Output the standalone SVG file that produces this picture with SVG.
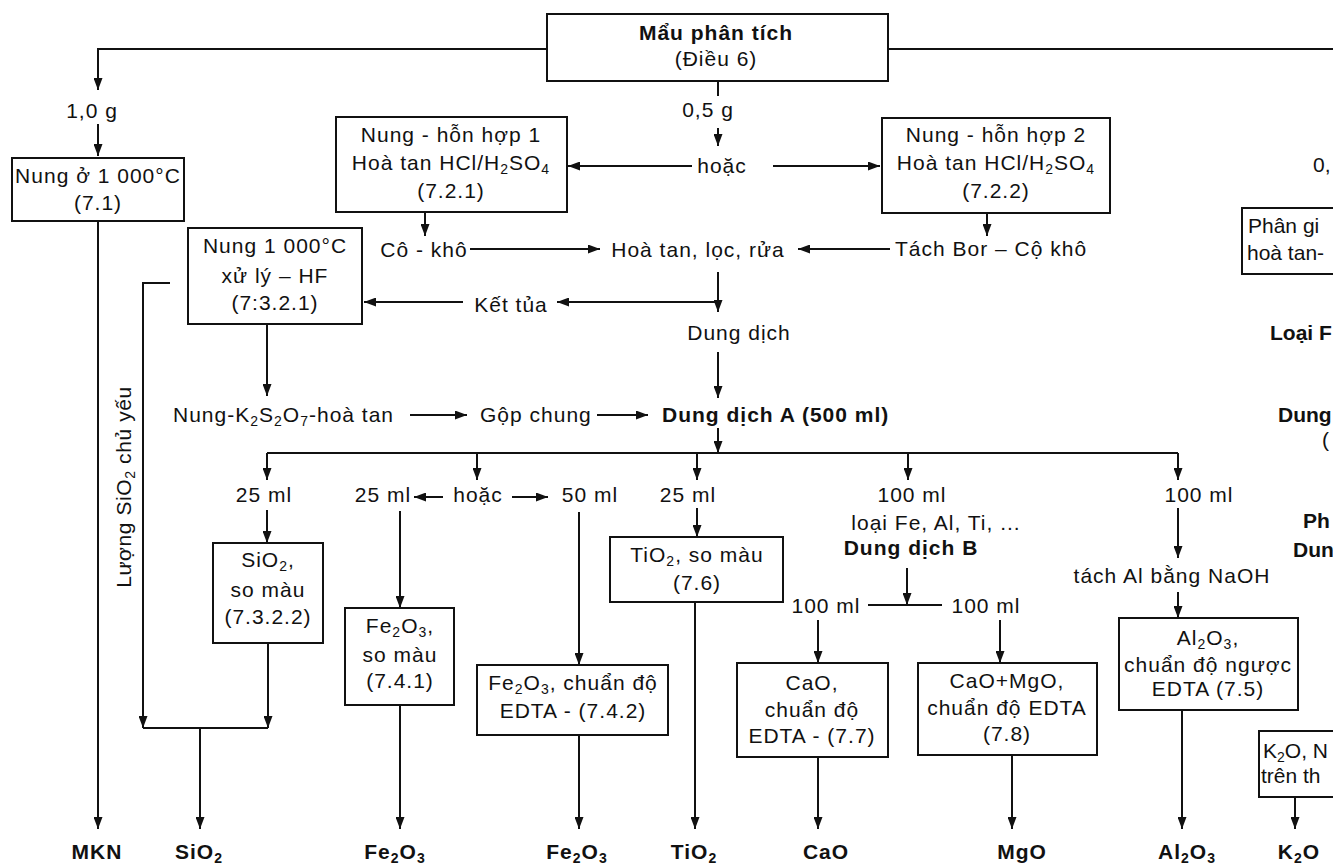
<svg xmlns="http://www.w3.org/2000/svg" width="1333" height="866" viewBox="0 0 1333 866">
<defs>
<style>
.t{font-family:"Liberation Sans",Arial,sans-serif;font-size:21px;letter-spacing:1px;fill:#111}
.b{font-weight:bold}
.m{text-anchor:middle}
.s{font-size:14px}
.ns{letter-spacing:0}
.box{fill:#fff;stroke:#111;stroke-width:2}
.ln{fill:none;stroke:#111;stroke-width:2}
.ar{marker-end:url(#ah)}
</style>
<marker id="ah" markerUnits="userSpaceOnUse" markerWidth="12" markerHeight="9" refX="12" refY="4.5" orient="auto">
<path d="M0,0 L12,4.5 L0,9 z" fill="#111"/>
</marker>
</defs>
<rect width="1333" height="866" fill="#fff"/>

<g id="connectors">
<path class="ln ar" d="M546,49 H98 V90"/>
<path class="ln" d="M888,49 H1333"/>
<path class="ln ar" d="M98,124 V156"/>
<path class="ln ar" d="M98,221 V829"/>
<path class="ln" d="M718,81 V96"/>
<path class="ln ar" d="M718,128 V146"/>
<path class="ln ar" d="M692,166 H568"/>
<path class="ln ar" d="M773,166 H880"/>
<path class="ln ar" d="M425,212 V236"/>
<path class="ln ar" d="M987,213 V236"/>
<path class="ln ar" d="M470,249 H600"/>
<path class="ln ar" d="M890,249 H798"/>
<path class="ln ar" d="M718,272 V312"/>
<path class="ln ar" d="M718,302 H557"/>
<path class="ln ar" d="M463,302 H364"/>
<path class="ln ar" d="M718,352 V398"/>
<path class="ln ar" d="M267,324 V396"/>
<path class="ln ar" d="M410,415 H467"/>
<path class="ln ar" d="M597,415 H648"/>
<path class="ln ar" d="M718,428 V453"/>
<path class="ln" d="M267,453 H1178"/>
<path class="ln ar" d="M267,453 V480"/>
<path class="ln ar" d="M477,453 V480"/>
<path class="ln ar" d="M697,453 V480"/>
<path class="ln ar" d="M908,453 V480"/>
<path class="ln ar" d="M1178,453 V480"/>
<path class="ln ar" d="M443,497 H414"/>
<path class="ln ar" d="M512,497 H548"/>
<path class="ln ar" d="M267,510 V543"/>
<path class="ln ar" d="M400,511 V608"/>
<path class="ln ar" d="M579,512 V665"/>
<path class="ln ar" d="M697,508 V537"/>
<path class="ln ar" d="M268,643 V728"/>
<path class="ln ar" d="M170,283 H143 V728"/>
<path class="ln" d="M143,728 H268"/>
<path class="ln ar" d="M200,728 V829"/>
<path class="ln ar" d="M400,705 V829"/>
<path class="ln ar" d="M579,735 V829"/>
<path class="ln ar" d="M695,602 V829"/>
<path class="ln ar" d="M907,568 V605"/>
<path class="ln" d="M868,605 H942"/>
<path class="ln ar" d="M818,620 V663"/>
<path class="ln ar" d="M1000,620 V663"/>
<path class="ln ar" d="M818,757 V829"/>
<path class="ln ar" d="M1012,755 V829"/>
<path class="ln ar" d="M1178,508 V558"/>
<path class="ln ar" d="M1178,592 V618"/>
<path class="ln ar" d="M1182,710 V829"/>
<path class="ln ar" d="M1295,797 V829"/>
</g>

<g id="mau">
<rect class="box" x="547" y="14" width="341" height="67"/>
<text class="t b m" x="716" y="40">Mẩu phân tích</text>
<text class="t m" x="716" y="66">(Điều 6)</text>
</g>

<g id="lbl10g"><text class="t m" x="92" y="118">1,0 g</text></g>
<g id="lbl05g"><text class="t m" x="708" y="117">0,5 g</text></g>
<g id="lblhoac1"><text class="t m" x="722" y="173">hoặc</text></g>

<g id="nung71">
<rect class="box" x="12" y="158" width="172" height="63"/>
<text class="t m" x="98" y="183">Nung ở 1 000°C</text>
<text class="t m" x="98" y="210">(7.1)</text>
</g>

<g id="hh1">
<rect class="box" x="336" y="117" width="231" height="95"/>
<text class="t m" x="451" y="142">Nung - hỗn hợp 1</text>
<text class="t m" x="451" y="170">Hoà tan HCl/H<tspan class="s" dy="4">2</tspan><tspan dy="-4">SO</tspan><tspan class="s" dy="4">4</tspan></text>
<text class="t m" x="451" y="198">(7.2.1)</text>
</g>

<g id="hh2">
<rect class="box" x="882" y="118" width="228" height="95"/>
<text class="t m" x="996" y="142">Nung - hỗn hợp 2</text>
<text class="t m" x="996" y="170">Hoà tan HCl/H<tspan class="s" dy="4">2</tspan><tspan dy="-4">SO</tspan><tspan class="s" dy="4">4</tspan></text>
<text class="t m" x="996" y="198">(7.2.2)</text>
</g>

<g id="cokho"><text class="t m" x="424" y="257">Cô - khô</text></g>
<g id="hoatan"><text class="t m" x="698" y="257">Hoà tan, lọc, rửa</text></g>
<g id="tachbor"><text class="t" x="895" y="256">Tách Bor – Cộ khô</text></g>

<g id="hf">
<rect class="box" x="188" y="228" width="174" height="96"/>
<text class="t m" x="275" y="253">Nung 1 000°C</text>
<text class="t m" x="275" y="283">xử lý – HF</text>
<text class="t m" x="275" y="310">(7:3.2.1)</text>
</g>

<g id="kettua"><text class="t m" x="511" y="312">Kết tủa</text></g>
<g id="dungdich"><text class="t m" x="739" y="340">Dung dịch</text></g>
<g id="k2s2o7"><text class="t" x="173" y="422">Nung-K<tspan class="s" dy="4">2</tspan><tspan dy="-4">S</tspan><tspan class="s" dy="4">2</tspan><tspan dy="-4">O</tspan><tspan class="s" dy="4">7</tspan><tspan dy="-4">-hoà tan</tspan></text></g>
<g id="gop"><text class="t" x="480" y="422">Gộp chung</text></g>
<g id="ddA"><text class="t b" x="662" y="422">Dung dịch A (500 ml)</text></g>

<g id="sluong"><text class="t" transform="translate(131,487) rotate(-90)" text-anchor="middle" style="letter-spacing:0.6px">Lượng SiO<tspan class="s" dy="4">2</tspan><tspan dy="-4"> chủ yếu</tspan></text></g>

<g id="v25a"><text class="t m" x="264" y="502">25 ml</text></g>
<g id="v25b"><text class="t m" x="383" y="502">25 ml</text></g>
<g id="hoac2"><text class="t m" x="478" y="502">hoặc</text></g>
<g id="v50"><text class="t m" x="590" y="502">50 ml</text></g>
<g id="v25c"><text class="t m" x="688" y="502">25 ml</text></g>
<g id="v100a">
<text class="t m" x="912" y="502">100 ml</text>
<text class="t m" x="936" y="530">loại Fe, Al, Ti, ...</text>
<text class="t b m" x="911" y="555">Dung dịch B</text>
</g>
<g id="v100b"><text class="t m" x="1199" y="502">100 ml</text></g>
<g id="tachAl"><text class="t m" x="1172" y="583">tách Al bằng NaOH</text></g>
<g id="v100c"><text class="t m" x="826" y="613">100 ml</text></g>
<g id="v100d"><text class="t m" x="986" y="613">100 ml</text></g>

<g id="sio2box">
<rect class="box" x="213" y="543" width="110" height="100"/>
<text class="t m" x="268" y="567">SiO<tspan class="s" dy="4">2</tspan><tspan dy="-4">,</tspan></text>
<text class="t m" x="268" y="597">so màu</text>
<text class="t m" x="268" y="624">(7.3.2.2)</text>
</g>

<g id="fe1box">
<rect class="box" x="345" y="608" width="109" height="97"/>
<text class="t m" x="400" y="633">Fe<tspan class="s" dy="4">2</tspan><tspan dy="-4">O</tspan><tspan class="s" dy="4">3</tspan><tspan dy="-4">,</tspan></text>
<text class="t m" x="400" y="662">so màu</text>
<text class="t m" x="400" y="688">(7.4.1)</text>
</g>

<g id="fe2box">
<rect class="box" x="477" y="665" width="191" height="70"/>
<text class="t m" x="573" y="690">Fe<tspan class="s" dy="4">2</tspan><tspan dy="-4">O</tspan><tspan class="s" dy="4">3</tspan><tspan dy="-4">, chuẩn độ</tspan></text>
<text class="t m" x="573" y="718">EDTA - (7.4.2)</text>
</g>

<g id="tibox">
<rect class="box" x="610" y="537" width="173" height="65"/>
<text class="t m" x="697" y="562">TiO<tspan class="s" dy="4">2</tspan><tspan dy="-4">, so màu</tspan></text>
<text class="t m" x="697" y="590">(7.6)</text>
</g>

<g id="caobox">
<rect class="box" x="737" y="663" width="151" height="94"/>
<text class="t m" x="812" y="690">CaO,</text>
<text class="t m" x="812" y="717">chuẩn độ</text>
<text class="t m" x="812" y="743">EDTA - (7.7)</text>
</g>

<g id="mgobox">
<rect class="box" x="918" y="663" width="179" height="92"/>
<text class="t m" x="1007" y="688">CaO+MgO,</text>
<text class="t m" x="1007" y="715">chuẩn độ EDTA</text>
<text class="t m" x="1007" y="741">(7.8)</text>
</g>

<g id="albox">
<rect class="box" x="1119" y="618" width="179" height="92"/>
<text class="t m" x="1208" y="645">Al<tspan class="s" dy="4">2</tspan><tspan dy="-4">O</tspan><tspan class="s" dy="4">3</tspan><tspan dy="-4">,</tspan></text>
<text class="t m" x="1208" y="672">chuẩn độ ngược</text>
<text class="t m" x="1208" y="696">EDTA (7.5)</text>
</g>

<g id="k2obox">
<rect class="box" x="1259" y="731" width="120" height="66"/>
<text class="t ns" x="1263" y="758">K<tspan class="s" dy="4">2</tspan><tspan dy="-4">O, N</tspan></text>
<text class="t ns" x="1261" y="783">trên th</text>
</g>

<g id="rightcut">
<text class="t ns" x="1313" y="172">0,</text>
<rect class="box" x="1242" y="208" width="120" height="66"/>
<text class="t ns" x="1248" y="233">Phân gi</text>
<text class="t ns" x="1247" y="260">hoà tan-</text>
<text class="t b ns" x="1270" y="340">Loại F</text>
<text class="t b ns" x="1278" y="422">Dung</text>
<text class="t ns" x="1322" y="447">(</text>
<text class="t b ns" x="1303" y="528">Ph</text>
<text class="t b ns" x="1293" y="557">Dun</text>
</g>

<g id="results">
<text class="t b m" x="97" y="859">MKN</text>
<text class="t b m" x="199" y="859">SiO<tspan class="s" dy="4">2</tspan></text>
<text class="t b m" x="395" y="859">Fe<tspan class="s" dy="4">2</tspan><tspan dy="-4">O</tspan><tspan class="s" dy="4">3</tspan></text>
<text class="t b m" x="577" y="859">Fe<tspan class="s" dy="4">2</tspan><tspan dy="-4">O</tspan><tspan class="s" dy="4">3</tspan></text>
<text class="t b m" x="694" y="859">TiO<tspan class="s" dy="4">2</tspan></text>
<text class="t b m" x="826" y="859">CaO</text>
<text class="t b m" x="1022" y="859">MgO</text>
<text class="t b m" x="1187" y="859">Al<tspan class="s" dy="4">2</tspan><tspan dy="-4">O</tspan><tspan class="s" dy="4">3</tspan></text>
<text class="t b m" x="1299" y="859">K<tspan class="s" dy="4">2</tspan><tspan dy="-4">O</tspan></text>
</g>
</svg>
